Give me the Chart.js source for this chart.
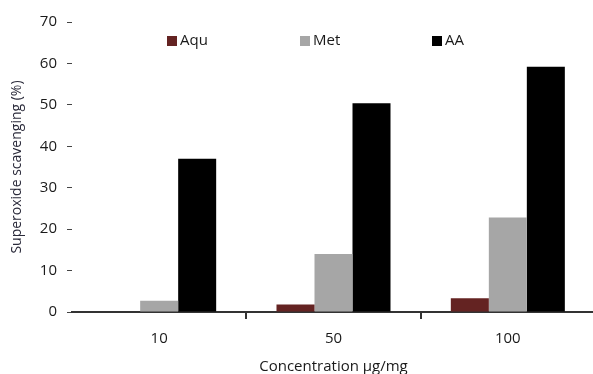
<!DOCTYPE html>
<html>
<head>
<meta charset="utf-8">
<script src="https://cdn.jsdelivr.net/npm/chart.js@4/dist/chart.umd.min.js"></script>
<style>
  html, body { margin: 0; padding: 0; background: #fff; overflow: hidden; }
  #wrap { width: 593px; height: 374px; overflow: hidden; }
</style>
</head>
<body>
<div id="wrap"><canvas id="c" width="600" height="374"></canvas></div>
<script>
// Concentrations tested (µg/mg)
const concentrations = ['10', '50', '100'];

// Superoxide scavenging (%) per extract
const aquValues = [0, 1.8, 3.3];
const metValues = [2.7, 14.0, 22.8];
const aaValues  = [37.0, 50.4, 59.2];

// Y axis tick values
const yTicks = [0, 10, 20, 30, 40, 50, 60, 70];

const seriesNames  = ['Aqu', 'Met', 'AA'];
const seriesColors = ['#642322', '#a6a6a6', '#000000'];

const FONT = '"Open Sans", "Liberation Sans", sans-serif';

// Legend drawn inside the plot area, across the top
const insideLegend = {
  id: 'insideLegend',
  afterDatasetsDraw(chart, args, opts) {
    const ctx = chart.ctx;
    ctx.save();
    ctx.font = opts.fontSize + 'px ' + FONT;
    ctx.textBaseline = 'middle';
    ctx.textAlign = 'left';
    chart.data.datasets.forEach((ds, i) => {
      const x = opts.x[i];
      const y = opts.y;
      ctx.fillStyle = ds.backgroundColor;
      ctx.fillRect(x, y - 5, 10, 10);
      ctx.fillStyle = '#1a1a1a';
      ctx.fillText(ds.label, x + 13, y);
    });
    ctx.restore();
  }
};

const datasets = [aquValues, metValues, aaValues].map((vals, i) => ({
  label: seriesNames[i],
  data: vals,
  backgroundColor: seriesColors[i],
  borderWidth: 0,
  categoryPercentage: 0.654,
  barPercentage: 1.0
}));

new Chart(document.getElementById('c'), {
  type: 'bar',
  data: { labels: concentrations, datasets },
  plugins: [insideLegend],
  options: {
    responsive: false,
    devicePixelRatio: 1,
    animation: false,
    layout: { padding: { top: 22, right: 5, bottom: 0, left: 0 } },
    plugins: {
      legend: { display: false },
      tooltip: { enabled: false },
      insideLegend: { x: [167, 300, 432], y: 41, fontSize: 15 }
    },
    scales: {
      x: {
        afterFit: s => { s.height = 62; },
        grid: {
          offset: true,
          drawOnChartArea: false,
          drawTicks: true,
          tickLength: 7,
          lineWidth: 2,
          color: ctx => (ctx.index === 1 || ctx.index === 2) ? '#333' : 'rgba(0,0,0,0)'
        },
        border: { display: true, color: '#333', width: 2 },
        ticks: {
          color: '#1a1a1a',
          padding: 11,
          font: { family: FONT, size: 15 }
        },
        title: {
          display: true,
          text: 'Concentration µg/mg',
          color: '#1a1a1a',
          padding: { top: 0, bottom: -2 },
          font: { family: FONT, size: 15 }
        }
      },
      y: {
        min: 0,
        max: 70,
        afterFit: s => { s.width = 72; },
        afterBuildTicks: s => { s.ticks = yTicks.map(v => ({ value: v })); },
        grid: {
          drawOnChartArea: false,
          drawTicks: true,
          tickLength: 5,
          color: '#444'
        },
        border: { display: false },
        ticks: {
          color: '#1a1a1a',
          padding: 10,
          font: { family: FONT, size: 15 }
        },
        title: {
          display: true,
          text: 'Superoxide scavenging (%)',
          color: '#2a2a3a',
          padding: { top: 9, bottom: 0 },
          font: { family: FONT, size: 14 }
        }
      }
    }
  }
});
</script>
</body>
</html>
